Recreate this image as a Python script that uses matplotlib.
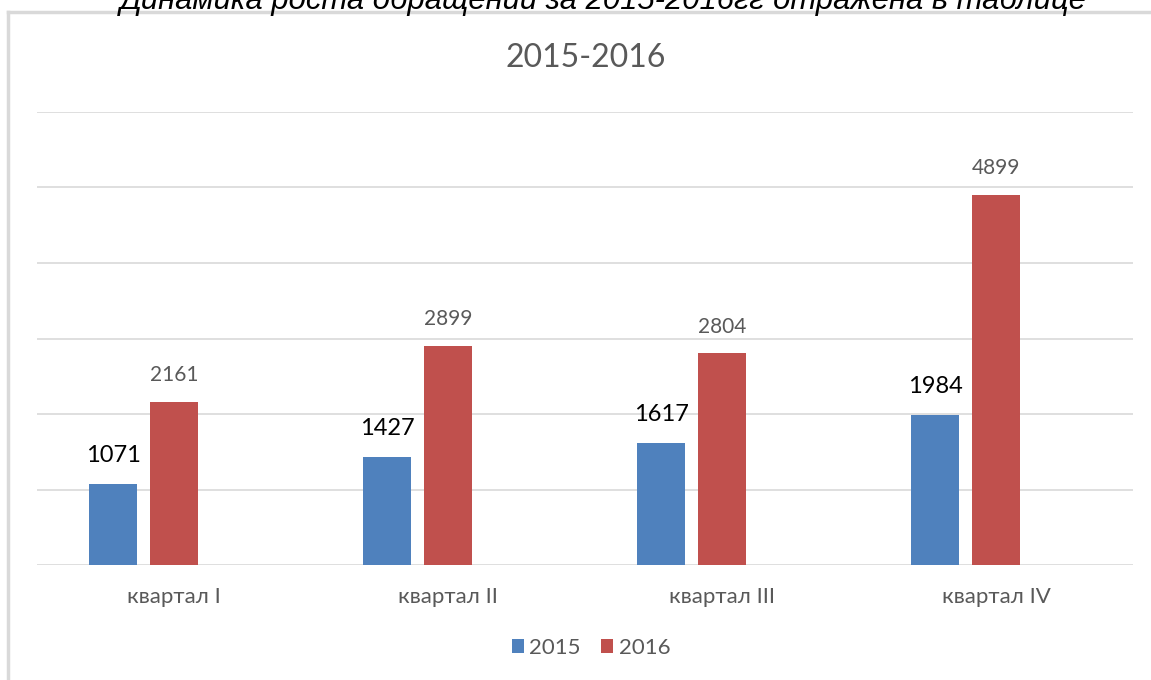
import numpy as np
import matplotlib.pyplot as plt
from matplotlib.lines import Line2D

plt.rcParams['font.family'] = ['Lato', 'DejaVu Sans']

kvartaly = ['квартал I', 'квартал II', 'квартал III', 'квартал IV']
god_2015 = [1071, 1427, 1617, 1984]
god_2016 = [2161, 2899, 2804, 4899]
serii = ['2015', '2016']

fig = plt.figure(figsize=(11.51, 6.80), dpi=100)
ax = fig.add_axes([0.0321, 0.1691, 0.9523, 0.6662])

x = np.arange(len(kvartaly))
w = 0.175
shag = 0.2226
b1 = ax.bar(x - shag, god_2015, width=w, color='#4F81BD', label=serii[0], zorder=3)
b2 = ax.bar(x, god_2016, width=w, color='#C0504D', label=serii[1], zorder=3)

for xi, v in zip(x - shag, god_2015):
    ax.annotate(str(v), (xi, v), xytext=(0, 13), textcoords='offset points',
                ha='center', va='bottom', fontsize=17, color='black')
for xi, v in zip(x, god_2016):
    ax.annotate(str(v), (xi, v), xytext=(0, 12), textcoords='offset points',
                ha='center', va='bottom', fontsize=15, color='#595959')

ax.set_xlim(-0.5, 3.5)
ax.set_ylim(0, 6000)
ax.set_yticks(np.arange(0, 6001, 1000))
ax.yaxis.grid(True, color='#D9D9D9', linewidth=1.2, zorder=0)
ax.tick_params(axis='y', left=False, labelleft=False)
ax.set_xticks(x)
ax.set_xticklabels(kvartaly, fontsize=16, color='#595959')
ax.tick_params(axis='x', length=0, pad=16)
for s in ax.spines.values():
    s.set_visible(False)

fig.text(586 / 1151, 1 - 58 / 680, '2015-2016', ha='center', va='center',
         fontsize=23, color='#595959')
fig.text(603 / 1151, 1 - 9 / 680, 'Динамика роста обращений за 2015-2016гг отражена в таблице',
         ha='center', va='baseline', fontsize=22.3, style='italic',
         family=['Liberation Sans', 'DejaVu Sans'], color='black')

fig.legend(handles=[b1, b2], labels=serii, loc='center', bbox_to_anchor=(591 / 1151, 1 - 648 / 680),
           ncol=2, frameon=False, fontsize=16, handlelength=0.55, handleheight=0.55,
           handletextpad=0.25, columnspacing=0.9, labelcolor='#595959')

# рамка диаграммы
fig.add_artist(Line2D([8 / 1151, 8 / 1151], [0, 1 - 12 / 680], transform=fig.transFigure,
                      color='#D9D9D9', linewidth=2.5))
fig.add_artist(Line2D([8 / 1151, 1], [1 - 12 / 680, 1 - 12 / 680], transform=fig.transFigure,
                      color='#D9D9D9', linewidth=2.5))

fig.savefig('out.png', dpi=100)
